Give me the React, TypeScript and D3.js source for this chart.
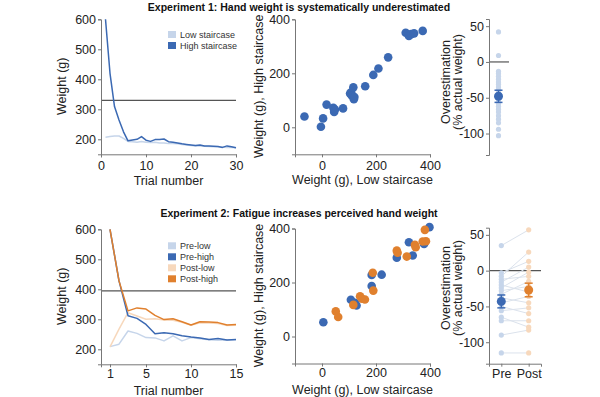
import React, { useEffect, useRef } from 'react';
import * as d3 from 'd3';

// ---- Experiment 1 ----
// mean staircase weight (g) per trial, trials 1..30
const lowStair1 = [207, 209, 211, 211, 203, 193, 192, 190, 193, 190, 189, 190, 188, 188, 186, 186, 185, 183, 181, 179, 178, 178, 177, 176, 175, 175, 174, 173, 173, 172];
const highStair1 = [600, 420, 309, 264, 225, 195, 198, 200, 209, 197, 193, 199, 199, 201, 192, 190, 188, 185, 183, 181, 179, 181, 178, 178, 177, 176, 173, 178, 175, 172];
const handWeight1 = 330;

// per participant: low vs high staircase end point (g)
const scatterLow1 = [-65, -4, 4, 17, 42, 45, 48, 78, 104, 108, 110, 116, 118, 120, 160, 190, 209, 245, 310, 322, 330, 341, 373];
const scatterHigh1 = [40, 2, 33, 84, 72, 57, 66, 70, 125, 130, 118, 148, 104, 112, 152, 194, 218, 259, 350, 338, 345, 348, 357];

// overestimation (% actual weight)
const overEst1 = [42, 9, -13, -16, -20, -24, -28, -31, -35, -39, -43, -47, -51, -55, -58, -62, -66, -70, -75, -80, -85, -94, -103];
const overEstMean1 = -48;
const overEstSem1 = 8.5;

// ---- Experiment 2 ----
const preLow2 = [209, 217, 261, 253, 239, 238, 228, 245, 228, 239, 235, 232, 230, 231, 232];
const preHigh2 = [600, 428, 312, 303, 283, 252, 255, 252, 245, 241, 238, 233, 236, 231, 233];
const postLow2 = [208, 267, 322, 311, 300, 302, 298, 297, 290, 280, 288, 288, 286, 279, 280];
const postHigh2 = [600, 428, 328, 338, 334, 313, 299, 302, 292, 281, 292, 291, 289, 281, 283];
const handWeight2 = 395;
const trialTicks2 = [1, 5, 10, 15];

const scatterPreLow2 = [5, 107, 122, 128, 184, 184, 221, 277, 322, 336, 378, 398];
const scatterPreHigh2 = [53, 136, 125, 115, 187, 228, 229, 292, 349, 300, 343, 405];
const scatterPostLow2 = [51, 60, 116, 141, 148, 159, 188, 190, 277, 280, 314, 344, 347, 373, 385, 381];
const scatterPostHigh2 = [93, 72, 117, 149, 140, 137, 236, 170, 318, 310, 296, 340, 331, 352, 353, 395];

const overPre2 = [35, -3, -8, -12, -16, -20, -24, -28, -33, -38, -45, -50, -56, -65, -70, -90, -115];
const overPost2 = [57, 13, 26, -8, 5, -30, -2, -22, -15, -45, -36, -60, -52, -79, -70, -83, -115];
const overMeans2 = [-43, -27];
const overSems2 = [9, 9.5];
const conditions2 = ['Pre', 'Post'];

const FONT = '"Liberation Sans", Arial, Helvetica, sans-serif';
const BLUE = '#3b69b3';
const LIGHT_BLUE = '#c6d5ea';
const ORANGE = '#e0802e';
const LIGHT_ORANGE = '#f7d8bc';
const AXIS = '#777';
const TEXT = '#222';
const REF = '#555';

const styleAxis = (g: any) => {
  g.attr('font-family', FONT).attr('font-size', 12.5);
  g.select('.domain').attr('stroke', AXIS);
  g.selectAll('.tick line').attr('stroke', AXIS);
  g.selectAll('.tick text').attr('fill', TEXT);
};

const yLabel = (svg: any, x: number, y: number, lines: string[]) => {
  const t = svg.append('text')
    .attr('transform', `translate(${x},${y}) rotate(-90)`)
    .attr('text-anchor', 'middle')
    .attr('font-family', FONT)
    .attr('font-size', 12.5)
    .attr('fill', TEXT);
  lines.forEach((l, i) => {
    t.append('tspan').attr('x', 0).attr('dy', i === 0 ? -(lines.length - 1) * 12 : 12).text(l);
  });
};

const xLabel = (svg: any, x: number, y: number, text: string) => {
  svg.append('text')
    .attr('x', x).attr('y', y)
    .attr('text-anchor', 'middle')
    .attr('font-family', FONT)
    .attr('font-size', 12.5)
    .attr('fill', TEXT)
    .text(text);
};

const fmt = (d: any) => String(d);

function linePanel(svg: any, top: number, xMax: number, xTicks: number[],
  series: { values: number[]; color: string }[], refWeight: number,
  legend: { label: string; color: string }[], legendTop: number, labelY: number, pad: number) {
  const x = d3.scaleLinear().domain([0, xMax]).range([101, 236]);
  const y = d3.scaleLinear().domain([150, 600]).range([top + 135, top]);

  svg.append('line')
    .attr('x1', x(0)).attr('x2', x(xMax))
    .attr('y1', y(refWeight)).attr('y2', y(refWeight))
    .attr('stroke', REF).attr('stroke-width', 1.2);

  const line = d3.line<number>().x((_, i) => x(i + 1)).y(d => y(d));
  series.forEach(s => {
    svg.append('path').datum(s.values)
      .attr('d', line)
      .attr('fill', 'none')
      .attr('stroke', s.color)
      .attr('stroke-width', 1.5)
      .attr('stroke-linejoin', 'round');
  });

  svg.append('g').attr('transform', `translate(0,${top + 135})`)
    .call(d3.axisBottom(x).tickValues(xTicks).tickFormat(fmt).tickSizeOuter(0).tickSize(3).tickPadding(pad))
    .call(styleAxis);
  svg.append('g').attr('transform', 'translate(101,0)')
    .call(d3.axisLeft(y).tickValues([200, 300, 400, 500, 600]).tickFormat(fmt).tickSizeOuter(0).tickSize(3).tickPadding(2))
    .call(styleAxis);

  legend.forEach((l, i) => {
    const cy = legendTop + i * 11;
    svg.append('rect').attr('x', 168).attr('y', cy - 3.5).attr('width', 8).attr('height', 7).attr('fill', l.color);
    svg.append('text').attr('x', 180).attr('y', cy + 3.2)
      .attr('font-family', FONT).attr('font-size', 9).attr('fill', '#333').text(l.label);
  });

  yLabel(svg, 66, top + 67, ['Weight (g)']);
  xLabel(svg, 168.5, labelY, 'Trial number');
}

function scatterPanel(svg: any, top: number, groups: { xs: number[]; ys: number[]; color: string }[],
  labelY: number, pad: number) {
  const x = d3.scaleLinear().domain([-100, 400]).range([295, 430]);
  const y = d3.scaleLinear().domain([-100, 400]).range([top + 135, top]);

  groups.forEach(g => {
    svg.append('g').selectAll('circle')
      .data(g.xs)
      .join('circle')
      .attr('cx', (d: number) => x(d))
      .attr('cy', (_: number, i: number) => y(g.ys[i]))
      .attr('r', 4.3)
      .attr('fill', g.color);
  });

  svg.append('g').attr('transform', `translate(0,${top + 135})`)
    .call(d3.axisBottom(x).tickValues([0, 200, 400]).tickFormat(fmt).tickSizeOuter(0).tickSize(3).tickPadding(pad))
    .call(styleAxis);
  svg.append('g').attr('transform', 'translate(295,0)')
    .call(d3.axisLeft(y).tickValues([0, 200, 400]).tickFormat(fmt).tickSizeOuter(0).tickSize(3).tickPadding(2))
    .call(styleAxis);

  yLabel(svg, 263, top + 67, ['Weight (g), High staircase']);
  xLabel(svg, 362.5, labelY, 'Weight (g), Low staircase');
}

function stripScale(top: number) {
  return d3.scaleLinear().domain([-130, 60]).range([top + 136, top]);
}

function errorBar(svg: any, cx: number, y: any, mean: number, sem: number, color: string) {
  svg.append('line').attr('x1', cx).attr('x2', cx).attr('y1', y(mean - sem)).attr('y2', y(mean + sem))
    .attr('stroke', color).attr('stroke-width', 1.5);
  [mean - sem, mean + sem].forEach(v => {
    svg.append('line').attr('x1', cx - 4).attr('x2', cx + 4).attr('y1', y(v)).attr('y2', y(v))
      .attr('stroke', color).attr('stroke-width', 1.5);
  });
  svg.append('circle').attr('cx', cx).attr('cy', y(mean)).attr('r', 4.5).attr('fill', color);
}

const App = () => {
  const ref = useRef<SVGSVGElement>(null);

  useEffect(() => {
    const svg = d3.select(ref.current);
    svg.selectAll('*').remove();

    // titles
    [
      { y: 10.5, t: 'Experiment 1: Hand weight is systematically underestimated' },
      { y: 217, t: 'Experiment 2: Fatigue increases perceived hand weight' },
    ].forEach(d => {
      svg.append('text').attr('x', 299).attr('y', d.y).attr('text-anchor', 'middle')
        .attr('font-family', FONT).attr('font-weight', 'bold').attr('font-size', 10.5)
        .attr('fill', '#111').text(d.t);
    });

    // ---- Row 1 ----
    linePanel(svg, 19.3, 30, [0, 10, 20, 30],
      [{ values: lowStair1, color: LIGHT_BLUE }, { values: highStair1, color: BLUE }],
      handWeight1,
      [{ label: 'Low staircase', color: LIGHT_BLUE }, { label: 'High staircase', color: BLUE }], 34.5, 185, 4);

    scatterPanel(svg, 19.3, [{ xs: scatterLow1, ys: scatterHigh1, color: BLUE }], 184, 4);

    {
      const top = 19;
      const y = stripScale(top);
      const cx = 498.5;
      svg.append('line').attr('x1', 489).attr('x2', 509).attr('y1', y(0)).attr('y2', y(0))
        .attr('stroke', REF).attr('stroke-width', 1.2);
      svg.append('g').selectAll('circle').data(overEst1).join('circle')
        .attr('cx', cx).attr('cy', (d: number) => y(d)).attr('r', 2.6).attr('fill', LIGHT_BLUE);
      errorBar(svg, cx, y, overEstMean1, overEstSem1, BLUE);
      svg.append('g').attr('transform', 'translate(489,0)')
        .call(d3.axisLeft(y).tickValues([50, 0, -50, -100]).tickFormat(fmt).tickSizeOuter(0).tickSize(3).tickPadding(2))
        .call(styleAxis);
      yLabel(svg, 461.5, 82, ['Overestimation', '(% actual weight)']);
    }

    // ---- Row 2 ----
    linePanel(svg, 229.3, 15, trialTicks2,
      [
        { values: preLow2, color: LIGHT_BLUE },
        { values: postLow2, color: LIGHT_ORANGE },
        { values: preHigh2, color: BLUE },
        { values: postHigh2, color: ORANGE },
      ],
      handWeight2,
      [
        { label: 'Pre-low', color: LIGHT_BLUE },
        { label: 'Pre-high', color: BLUE },
        { label: 'Post-low', color: LIGHT_ORANGE },
        { label: 'Post-high', color: ORANGE },
      ], 245.8, 394.5, 2);

    scatterPanel(svg, 228.5, [
      { xs: scatterPreLow2, ys: scatterPreHigh2, color: BLUE },
      { xs: scatterPostLow2, ys: scatterPostHigh2, color: ORANGE },
    ], 393.8, 2);

    {
      const top = 227.7;
      const y = stripScale(top);
      const x = d3.scalePoint<string>().domain(conditions2).range([489, 541]).padding(0.45);
      const xPre = x('Pre') as number;
      const xPost = x('Post') as number;
      svg.append('line').attr('x1', 489).attr('x2', 541).attr('y1', y(0)).attr('y2', y(0))
        .attr('stroke', REF).attr('stroke-width', 1.2);
      svg.append('g').selectAll('line').data(overPre2).join('line')
        .attr('x1', xPre).attr('x2', xPost)
        .attr('y1', (d: number) => y(d)).attr('y2', (_: number, i: number) => y(overPost2[i]))
        .attr('stroke', '#dbe2ec').attr('stroke-width', 1);
      svg.append('g').selectAll('circle').data(overPre2).join('circle')
        .attr('cx', xPre).attr('cy', (d: number) => y(d)).attr('r', 2.6).attr('fill', LIGHT_BLUE);
      svg.append('g').selectAll('circle').data(overPost2).join('circle')
        .attr('cx', xPost).attr('cy', (d: number) => y(d)).attr('r', 2.6).attr('fill', LIGHT_ORANGE);
      errorBar(svg, xPre, y, overMeans2[0], overSems2[0], BLUE);
      errorBar(svg, xPost, y, overMeans2[1], overSems2[1], ORANGE);
      svg.append('g').attr('transform', 'translate(489,0)')
        .call(d3.axisLeft(y).tickValues([50, 0, -50, -100]).tickFormat(fmt).tickSizeOuter(0).tickSize(3).tickPadding(2))
        .call(styleAxis);
      svg.append('g').attr('transform', `translate(0,${top + 136})`)
        .call(d3.axisBottom(x).tickSizeOuter(0).tickSize(3).tickPadding(2))
        .call(styleAxis);
      yLabel(svg, 461.5, 288, ['Overestimation', '(% actual weight)']);
    }
  }, []);

  return (
    <svg ref={ref} width={600} height={397}
      style={{ position: 'absolute', left: 0, top: 0, background: '#fff' }} />
  );
};

export default App;
